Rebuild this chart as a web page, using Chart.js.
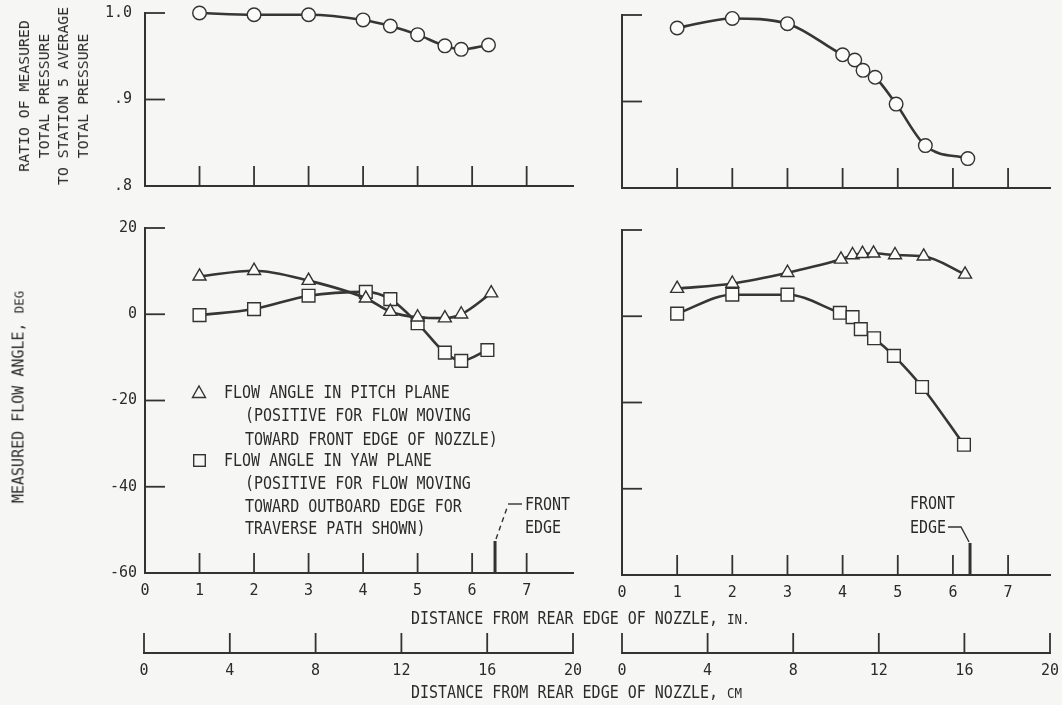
<!DOCTYPE html>
<html><head><meta charset="utf-8">
<script src="https://cdn.jsdelivr.net/npm/chart.js@4.4.1/dist/chart.umd.min.js"></script>
<style>
html,body{margin:0;padding:0;background:#f6f6f4;overflow:hidden;}
#page{position:relative;width:1062px;height:705px;overflow:hidden;background:#f6f6f4;font-family:'DejaVu Sans Mono',monospace;color:#2b2b2b;}
canvas{position:absolute;left:0;top:0;}
.t{position:absolute;white-space:pre;font-size:15px;line-height:18px;transform:translateY(-50%) scaleY(1.15);transform-origin:left center;}
.sc{font-size:12.5px;}
.rot{position:absolute;white-space:pre;text-align:center;transform:translate(-50%,-50%) rotate(-90deg) scaleY(1.0);}
svg{position:absolute;overflow:visible;}
</style></head><body><div id="page">
<canvas id="tl" width="1100" height="705"></canvas>
<canvas id="tr" width="1100" height="705"></canvas>
<canvas id="bl" width="1100" height="705"></canvas>
<canvas id="br" width="1100" height="705"></canvas>
<canvas id="cml" width="1100" height="705"></canvas>
<canvas id="cmr" width="1100" height="705"></canvas>

<div class="rot" style="left:53px;top:96px;font-size:14.8px;line-height:19.5px;">RATIO OF MEASURED
TOTAL PRESSURE
TO STATION 5 AVERAGE
TOTAL PRESSURE</div>
<div class="rot" style="left:19px;top:397px;font-size:15px;line-height:18px;">MEASURED FLOW ANGLE, <span class="sc">DEG</span></div>

<svg style="left:192px;top:385px" width="14" height="14"><polygon points="7,1 13.5,12.5 0.5,12.5" fill="none" stroke="#333" stroke-width="1.4"/></svg>
<div class="t" style="left:224px;top:392px">FLOW ANGLE IN PITCH PLANE</div>
<div class="t" style="left:245px;top:415px">(POSITIVE FOR FLOW MOVING</div>
<div class="t" style="left:245px;top:439px">TOWARD FRONT EDGE OF NOZZLE)</div>
<svg style="left:193px;top:454px" width="13" height="13"><rect x="0.7" y="0.7" width="11.6" height="11.6" fill="none" stroke="#333" stroke-width="1.4"/></svg>
<div class="t" style="left:224px;top:460px">FLOW ANGLE IN YAW PLANE</div>
<div class="t" style="left:245px;top:483px">(POSITIVE FOR FLOW MOVING</div>
<div class="t" style="left:245px;top:506px">TOWARD OUTBOARD EDGE FOR</div>
<div class="t" style="left:245px;top:528px">TRAVERSE PATH SHOWN)</div>

<div class="t" style="left:525px;top:504px">FRONT</div>
<div class="t" style="left:525px;top:527px">EDGE</div>
<div class="t" style="left:910px;top:503px">FRONT</div>
<div class="t" style="left:910px;top:527px">EDGE</div>

<div class="t" style="left:411px;top:619px">DISTANCE FROM REAR EDGE OF NOZZLE, <span class="sc">IN.</span></div>
<div class="t" style="left:411px;top:693px">DISTANCE FROM REAR EDGE OF NOZZLE, <span class="sc">CM</span></div>
</div>
<script>
// ---------- tick values and labels ----------
const inchTicks = [0, 1, 2, 3, 4, 5, 6, 7];
const inchTickLabels = ['0', '1', '2', '3', '4', '5', '6', '7'];
const cmTicks = [0, 4, 8, 12, 16, 20];
const cmTickLabels = ['0', '4', '8', '12', '16', '20'];
const ratioTicks = [0.8, 0.9, 1.0];
const ratioTickLabels = ['.8', '.9', '1.0'];
const angleTicks = [-60, -40, -20, 0, 20];
const angleTickLabels = ['-60', '-40', '-20', '0', '20'];

// ---------- left traverse ----------
const leftPressureX = [1, 2, 3, 4, 4.5, 5, 5.5, 5.8, 6.3];
const leftPressure = [1.0, 0.998, 0.998, 0.992, 0.985, 0.975, 0.962, 0.958, 0.963];
const leftPitchX = [1, 2, 3, 4.05, 4.5, 5, 5.5, 5.8, 6.35];
const leftPitch = [8.8, 10.1, 7.8, 3.7, 0.6, -0.7, -0.9, 0.0, 4.9];
const leftYawX = [1, 2, 3, 4.05, 4.5, 5, 5.5, 5.8, 6.28];
const leftYaw = [-0.2, 1.2, 4.3, 5.2, 3.5, -2.1, -8.9, -10.8, -8.3];
const leftFrontEdge = 6.42;

// ---------- right traverse ----------
const rightPressureX = [1, 2, 3, 4, 4.22, 4.37, 4.59, 4.97, 5.5, 6.27];
const rightPressure = [0.985, 0.996, 0.990, 0.954, 0.948, 0.936, 0.928, 0.897, 0.849, 0.834];
const rightPitchX = [1, 2, 3, 3.97, 4.18, 4.36, 4.56, 4.95, 5.47, 6.22];
const rightPitch = [6.4, 7.6, 10.1, 13.2, 14.2, 14.5, 14.6, 14.2, 13.9, 9.7];
const rightYawX = [1, 2, 3, 3.95, 4.18, 4.33, 4.57, 4.93, 5.44, 6.2];
const rightYaw = [0.6, 5.0, 5.0, 0.8, -0.2, -3.0, -5.1, -9.2, -16.4, -29.8];
const rightFrontEdge = 6.31;

const INK = '#333333';
Chart.defaults.font.family = "'DejaVu Sans Mono', monospace";
Chart.defaults.font.size = 15;
Chart.defaults.color = '#2b2b2b';

function pts(xs, ys) { return xs.map((x, i) => ({ x: x, y: ys[i] })); }

const inTicks = {
  id: 'inTicks',
  beforeDatasetsDraw(chart, args, o) {
    if (!o || !o.on) return;
    const ctx = chart.ctx, a = chart.chartArea, xs = chart.scales.x, ys = chart.scales.y;
    ctx.save();
    ctx.strokeStyle = INK; ctx.lineWidth = 1.8; ctx.lineCap = 'butt';
    (o.x || []).forEach(v => {
      const px = xs.getPixelForValue(v);
      ctx.beginPath(); ctx.moveTo(px, a.bottom); ctx.lineTo(px, a.bottom - o.len); ctx.stroke();
    });
    (o.y || []).forEach(v => {
      const py = ys.getPixelForValue(v);
      ctx.beginPath(); ctx.moveTo(a.left, py); ctx.lineTo(a.left + o.len, py); ctx.stroke();
    });
    if (o.front) {
      const px = xs.getPixelForValue(o.front.value), top = a.bottom - 32;
      ctx.lineWidth = 3;
      ctx.beginPath(); ctx.moveTo(px, a.bottom); ctx.lineTo(px, top); ctx.stroke();
      ctx.lineWidth = 1.4;
      if (o.front.side === 'left') {
        ctx.setLineDash([5, 4]);
        ctx.beginPath(); ctx.moveTo(px + 1, top - 2); ctx.lineTo(px + 13, top - 36); ctx.stroke();
        ctx.setLineDash([]);
        ctx.beginPath(); ctx.moveTo(px + 13, top - 37); ctx.lineTo(px + 27, top - 37); ctx.stroke();
      } else {
        ctx.beginPath(); ctx.moveTo(px - 1, top - 1); ctx.lineTo(px - 9, top - 16); ctx.lineTo(px - 22, top - 16); ctx.stroke();
      }
    }
    ctx.restore();
  }
};
Chart.register(inTicks);

function ds(xs, ys, style, radius) {
  return {
    data: pts(xs, ys), borderColor: '#363636', borderWidth: 2.6,
    cubicInterpolationMode: 'monotone', pointStyle: style, pointRadius: radius,
    pointBackgroundColor: '#fbfbfa', pointBorderColor: INK, pointBorderWidth: 1.4,
    clip: false, fill: false
  };
}

function noPad(s) { s.paddingTop = 0; s.paddingBottom = 0; s.paddingLeft = 0; s.paddingRight = 0; }

function panel(id, area, xMax, yMin, yMax, yTicks, yLabels, showY, showX, yPad, datasets, front) {
  const W = 40, H = 30;
  return new Chart(document.getElementById(id), {
    type: 'line',
    data: { datasets: datasets },
    options: {
      responsive: false, animation: false, events: [],
      layout: { padding: { left: area.l - W, top: area.t, right: 1100 - area.r, bottom: 705 - area.b - H } },
      plugins: { legend: { display: false }, tooltip: { enabled: false },
        inTicks: { on: true, len: 20, x: inchTicks.slice(1), y: yTicks.slice(1), front: front } },
      scales: {
        x: { type: 'linear', min: 0, max: xMax,
          afterFit: s => { s.height = H; noPad(s); },
          afterBuildTicks: s => { s.ticks = inchTicks.map(v => ({ value: v })); },
          grid: { display: false, drawTicks: false },
          border: { display: true, color: INK, width: 2 },
          ticks: { display: showX, autoSkip: false, maxRotation: 0, padding: 9,
            callback: (v) => inchTickLabels[inchTicks.indexOf(v)] } },
        y: { type: 'linear', min: yMin, max: yMax,
          afterFit: s => { s.width = W; noPad(s); },
          afterBuildTicks: s => { s.ticks = yTicks.map(v => ({ value: v })); },
          grid: { display: false, drawTicks: false },
          border: { display: true, color: INK, width: 2 },
          ticks: { display: showY, autoSkip: false, padding: yPad,
            callback: (v) => { const i = yTicks.findIndex(t => Math.abs(t - v) < 1e-9); return yLabels[i]; } } }
      }
    }
  });
}

function cmAxis(id, l, r) {
  const top = 633, bottom = 653, H = 30;
  return new Chart(document.getElementById(id), {
    type: 'line',
    data: { datasets: [] },
    options: {
      responsive: false, animation: false, events: [],
      layout: { padding: { left: l, top: top, right: 1100 - r, bottom: 705 - bottom - H } },
      plugins: { legend: { display: false }, tooltip: { enabled: false },
        inTicks: { on: true, len: 20, x: cmTicks, y: [] } },
      scales: {
        x: { type: 'linear', min: 0, max: 20,
          afterFit: s => { s.height = H; noPad(s); },
          afterBuildTicks: s => { s.ticks = cmTicks.map(v => ({ value: v })); },
          grid: { display: false, drawTicks: false },
          border: { display: true, color: INK, width: 2 },
          ticks: { autoSkip: false, maxRotation: 0, padding: 9,
            callback: (v) => cmTickLabels[cmTicks.indexOf(v)] } },
        y: { display: false, min: 0, max: 1 }
      }
    }
  });
}

const leftMax = 7.85, rightMax = 7.76;
panel('tl', { l: 145, r: 573, t: 13, b: 186 }, leftMax, 0.8, 1.0, ratioTicks, ratioTickLabels, true, false, 13,
  [ds(leftPressureX, leftPressure, 'circle', 6.8)], null);
panel('tr', { l: 622, r: 1050, t: 15, b: 188 }, rightMax, 0.8, 1.0, ratioTicks, ratioTickLabels, false, false, 13,
  [ds(rightPressureX, rightPressure, 'circle', 6.8)], null);
panel('bl', { l: 145, r: 573, t: 228, b: 573 }, leftMax, -60, 20, angleTicks, angleTickLabels, true, true, 8,
  [ds(leftPitchX, leftPitch, 'triangle', 7.5), ds(leftYawX, leftYaw, 'rect', 9)], { value: leftFrontEdge, side: 'left' });
panel('br', { l: 622, r: 1050, t: 230, b: 575 }, rightMax, -60, 20, angleTicks, angleTickLabels, false, true, 8,
  [ds(rightPitchX, rightPitch, 'triangle', 7.5), ds(rightYawX, rightYaw, 'rect', 9)], { value: rightFrontEdge, side: 'right' });
cmAxis('cml', 144, 573);
cmAxis('cmr', 622, 1050);
</script>
</body></html>
